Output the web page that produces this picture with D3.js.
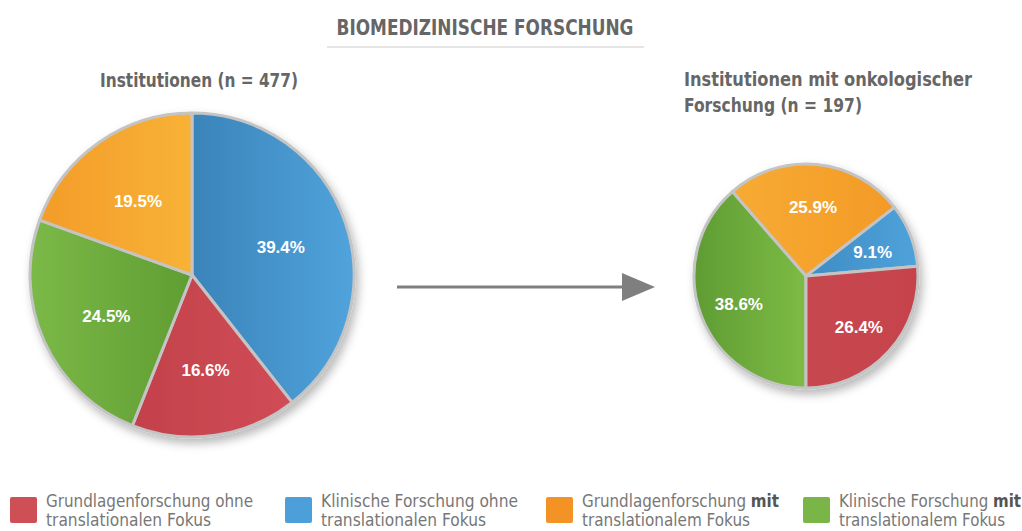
<!DOCTYPE html>
<html lang="de">
<head>
  <meta charset="UTF-8">
  <title>Biomedizinische Forschung</title>
  <script src="https://cdn.jsdelivr.net/npm/d3@7"></script>
  <style>
    body { margin: 0; background: #fff; }
    text { font-family: "Liberation Sans Narrow", "DejaVu Sans Condensed", "Liberation Sans", sans-serif; }
    .pct { font-family: "Liberation Sans", Arial, sans-serif; font-weight: bold; }
  </style>
</head>
<body>
  <svg width="1022" height="531" id="main"></svg>
<script>
  // Kategorien (Reihenfolge wie in der Legende)
  const keys = ['grundOhne', 'klinOhne', 'grundMit', 'klinMit'];
  const legendLines = [
    [[{t: 'Grundlagenforschung ohne'}], [{t: 'translationalen Fokus'}]],
    [[{t: 'Klinische Forschung ohne'}], [{t: 'translationalen Fokus'}]],
    [[{t: 'Grundlagenforschung '}, {t: 'mit', b: true}], [{t: 'translationalem Fokus'}]],
    [[{t: 'Klinische Forschung '}, {t: 'mit', b: true}], [{t: 'translationalem Fokus'}]],
  ];

  // Werte in Prozent
  const leftValues  = {grundOhne: 16.6, klinOhne: 39.4, grundMit: 19.5, klinMit: 24.5};
  const rightValues = {grundOhne: 26.4, klinOhne: 9.1,  grundMit: 25.9, klinMit: 38.6};

  // Reihenfolge im Uhrzeigersinn
  const leftOrder  = ['klinOhne', 'grundOhne', 'klinMit', 'grundMit'];
  const rightOrder = ['klinMit', 'grundMit', 'klinOhne', 'grundOhne'];

  const title = 'BIOMEDIZINISCHE FORSCHUNG';
  const leftTitle = ['Institutionen (n = 477)'];
  const rightTitle = ['Institutionen mit onkologischer', 'Forschung (n = 197)'];

  const svg = d3.select('#main');
  const defs = svg.append('defs');

  // Farben
  const color = {grundOhne: '#cf4f57', klinOhne: '#4c9fd9', grundMit: '#f39325', klinMit: '#79b547'};
  const grads = {
    left: {
      klinOhne: ['#3a84ba', '#51a3dc'],
      grundOhne: ['#c3414b', '#d04d56'],
      klinMit: ['#7bb947', '#609d33'],
      grundMit: ['#f39c2a', '#f8b236'],
    },
    right: {
      klinOhne: ['#3f8cc4', '#4fa2da'],
      grundOhne: ['#c84750', '#c6434c'],
      klinMit: ['#5f9c34', '#7dbb45'],
      grundMit: ['#f7ab33', '#f39a27'],
    },
  };

  // Schatten
  const shadow = defs.append('filter').attr('id', 'shadow')
    .attr('x', '-20%').attr('y', '-20%').attr('width', '140%').attr('height', '140%');
  shadow.append('feDropShadow')
    .attr('dx', 3).attr('dy', 5).attr('stdDeviation', 5)
    .attr('flood-color', '#000').attr('flood-opacity', 0.28);

  Object.keys(grads).forEach(side => {
    Object.keys(grads[side]).forEach(k => {
      const g = defs.append('linearGradient').attr('id', `g-${side}-${k}`)
        .attr('x1', 0).attr('x2', 1).attr('y1', 0).attr('y2', 0);
      g.append('stop').attr('offset', '0%').attr('stop-color', grads[side][k][0]);
      g.append('stop').attr('offset', '100%').attr('stop-color', grads[side][k][1]);
    });
  });

  // Titel
  svg.append('text')
    .attr('x', 485).attr('y', 35)
    .attr('text-anchor', 'middle')
    .attr('font-size', 22).attr('font-weight', 'bold')
    .attr('fill', '#666')
    .attr('textLength', 297).attr('lengthAdjust', 'spacingAndGlyphs')
    .text(title);
  svg.append('line')
    .attr('x1', 327).attr('x2', 644).attr('y1', 47).attr('y2', 47)
    .attr('stroke', '#dcdcdc').attr('stroke-width', 1.5);

  // Untertitel
  svg.append('text')
    .attr('x', 100).attr('y', 87)
    .attr('font-size', 20).attr('font-weight', 'bold').attr('fill', '#666')
    .attr('textLength', 198).attr('lengthAdjust', 'spacingAndGlyphs')
    .text(leftTitle[0]);
  const rtLen = [288, 178];
  rightTitle.forEach((t, i) => {
    svg.append('text')
      .attr('x', 684).attr('y', 86 + i * 26)
      .attr('font-size', 20).attr('font-weight', 'bold').attr('fill', '#666')
      .attr('textLength', rtLen[i]).attr('lengthAdjust', 'spacingAndGlyphs')
      .text(t);
  });

  // Kreisdiagramm
  function drawPie(side, values, order, start, cx, cy, r, labelK) {
    const pie = d3.pie().sort(null).value(k => values[k])
      .startAngle(start).endAngle(start + 2 * Math.PI);
    const arc = d3.arc().innerRadius(0).outerRadius(r);
    const labelArc = d3.arc().innerRadius(r * labelK).outerRadius(r * labelK);
    const arcs = pie(order);

    const g = svg.append('g').attr('transform', `translate(${cx},${cy})`);
    g.append('g').attr('filter', 'url(#shadow)')
      .selectAll('path')
      .data(arcs)
      .enter()
      .append('path')
      .attr('d', arc)
      .attr('fill', d => `url(#g-${side}-${d.data})`)
      .attr('stroke', '#c4c4c4')
      .attr('stroke-width', 3)
      .attr('stroke-linejoin', 'round');

    g.selectAll('text.pct')
      .data(arcs)
      .enter()
      .append('text')
      .attr('class', 'pct')
      .attr('transform', d => `translate(${labelArc.centroid(d)})`)
      .attr('text-anchor', 'middle')
      .attr('dy', '0.5em')
      .attr('font-size', 17)
      .attr('fill', '#fff')
      .text(d => d3.format('.1f')(values[d.data]) + '%');
  }

  drawPie('left', leftValues, leftOrder, 0, 192, 275, 162, 0.58);
  drawPie('right', rightValues, rightOrder, Math.PI, 806, 276, 112, 0.64);

  // Pfeil
  svg.append('line')
    .attr('x1', 397).attr('x2', 628).attr('y1', 287).attr('y2', 287)
    .attr('stroke', '#7f7f7f').attr('stroke-width', 3);
  svg.append('path')
    .attr('d', d3.line()([[622, 273], [655, 287], [622, 301]]))
    .attr('fill', '#7f7f7f');

  // Legende
  const legendX = [10, 285, 546, 803];
  const lineLen = [[207, 165], [197, 165], [197, 168], [182, 166]];
  const leg = svg.append('g')
    .selectAll('g')
    .data(keys)
    .enter()
    .append('g')
    .attr('transform', (d, i) => `translate(${legendX[i]},497)`);

  leg.append('rect')
    .attr('width', 27).attr('height', 26).attr('rx', 2)
    .attr('fill', d => color[d]);

  leg.each(function (d, i) {
    const lg = d3.select(this);
    legendLines[i].forEach((line, j) => {
      const t = lg.append('text')
        .attr('x', 36).attr('y', 10 + j * 19)
        .attr('font-size', 17).attr('fill', '#777')
        .attr('textLength', lineLen[i][j]).attr('lengthAdjust', 'spacingAndGlyphs');
      line.forEach(p => {
        t.append('tspan')
          .attr('font-weight', p.b ? 'bold' : 'normal')
          .attr('fill', p.b ? '#555' : '#777')
          .text(p.t);
      });
    });
  });
</script>
</body>
</html>
